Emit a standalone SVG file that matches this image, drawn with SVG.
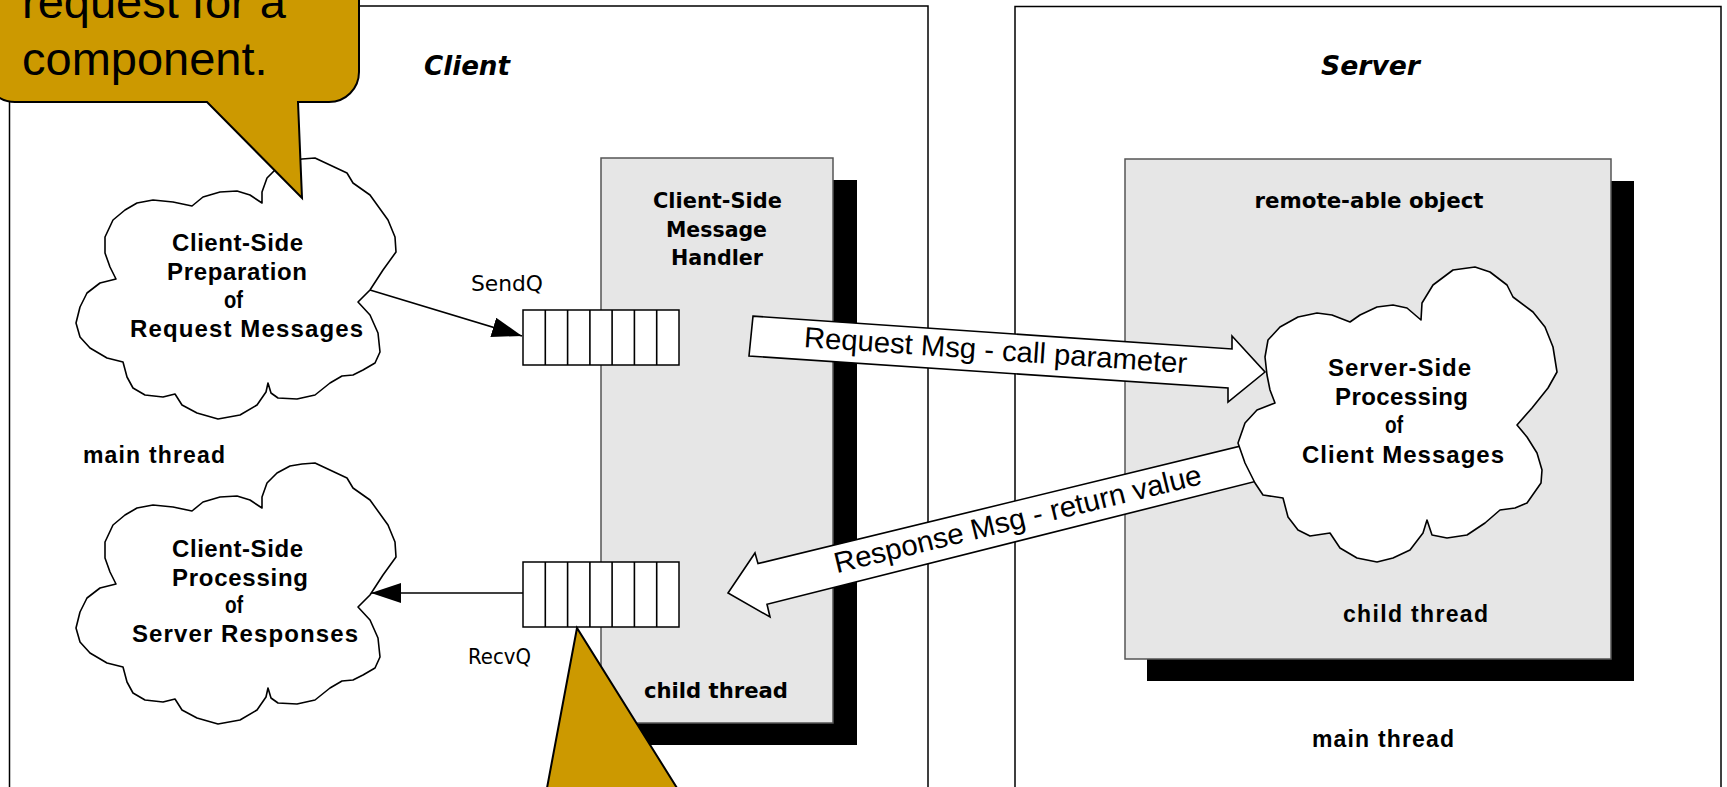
<svg xmlns="http://www.w3.org/2000/svg" width="1727" height="787" viewBox="0 0 1727 787">
<defs>
<style>
.box{fill:#fff;stroke:#000;stroke-width:1.5}
.shadow{fill:#000}
.panel{fill:#e6e6e6;stroke:#555;stroke-width:1.5}
.cloud{fill:#fff;stroke:#000;stroke-width:1.6;stroke-linejoin:round}
.cell{fill:#fff;stroke:#000;stroke-width:1.5}
.big{fill:#fff;stroke:#000;stroke-width:1.6;stroke-linejoin:miter}
.thin{stroke:#000;stroke-width:1.6;fill:none}
.callout{fill:#cc9900;stroke:#000;stroke-width:2}
.title{font-family:"DejaVu Sans",Verdana,sans-serif;font-weight:bold;font-style:italic;font-size:26px}
.lbl{font-family:"DejaVu Sans",Verdana,sans-serif;font-weight:bold;font-size:21px}
.cl{font-family:"Liberation Sans",Arial,sans-serif;font-weight:bold;font-size:24px}
.th{font-family:"Liberation Sans",Arial,sans-serif;font-weight:bold;font-size:23px}
.q{font-family:"DejaVu Sans",Verdana,sans-serif;font-size:21px}
.msg{font-family:"Liberation Sans",Arial,sans-serif;font-size:29px;text-anchor:middle}
.co{font-family:"Liberation Sans",Arial,sans-serif;font-size:47px}
</style>
<marker id="ah" viewBox="0 0 30 20" refX="30" refY="10" markerWidth="30" markerHeight="20" markerUnits="userSpaceOnUse" orient="auto">
<path d="M0,0 L30,10 L0,20 z" fill="#000"/>
</marker>
<polygon id="cloudA" points="315,158 347,173 353,183 370,195 388,220 395,237 396,252 383,270 370,290 358,302 370,315 378,333 380,352 375,363 363,370 353,375 342,376 330,383 315,395 297,399 278,398 271,393 268,383 266,392 257,405 240,415 218,419 197,413 182,405 175,394 163,397 145,395 133,388 127,377 123,362 107,358 90,348 80,337 76,323 80,307 87,293 100,283 116,279 110,267 105,253 105,237 113,220 125,210 137,203 153,200 173,202 192,206 203,197 220,192 237,191 250,195 262,203 262,192 267,178 277,168 290,161 302,159"/>
</defs>

<g id="client">
<rect class="box" x="9.5" y="6" width="918.5" height="800"/>
<text class="title" x="424" y="75" textLength="86" lengthAdjust="spacingAndGlyphs">Client</text>
<text class="th" x="83" y="463" textLength="142" lengthAdjust="spacing">main thread</text>
</g>

<g id="server">
<rect class="box" x="1015" y="6.5" width="706" height="800"/>
<text class="title" x="1321" y="75" textLength="99" lengthAdjust="spacingAndGlyphs">Server</text>
<text class="th" x="1312" y="747" textLength="142" lengthAdjust="spacing">main thread</text>
</g>

<g id="handler">
<rect class="shadow" x="623" y="180" width="234" height="565"/>
<rect class="panel" x="601" y="158" width="232" height="565"/>
<text class="lbl" x="653" y="208" textLength="129" lengthAdjust="spacingAndGlyphs">Client-Side</text>
<text class="lbl" x="666" y="237" textLength="101" lengthAdjust="spacingAndGlyphs">Message</text>
<text class="lbl" x="671" y="265" textLength="92" lengthAdjust="spacingAndGlyphs">Handler</text>
<text class="lbl" x="644" y="698" textLength="144" lengthAdjust="spacingAndGlyphs">child thread</text>
</g>

<g id="remote">
<rect class="shadow" x="1147" y="181" width="487" height="500"/>
<rect class="panel" x="1125" y="159" width="486" height="500"/>
<text class="lbl" x="1254.5" y="208" textLength="229" lengthAdjust="spacingAndGlyphs">remote-able object</text>
<text class="th" x="1343" y="622" textLength="145" lengthAdjust="spacing">child thread</text>
</g>

<g id="sendq">
<rect class="cell" x="523" y="310" width="156" height="55"/>
<path class="thin" d="M545.3,310V365M567.6,310V365M589.9,310V365M612.1,310V365M634.4,310V365M656.7,310V365"/>
<text class="q" x="471" y="291" textLength="72" lengthAdjust="spacingAndGlyphs">SendQ</text>
</g>

<g id="recvq">
<rect class="cell" x="523" y="562" width="156" height="65"/>
<path class="thin" d="M545.3,562V627M567.6,562V627M589.9,562V627M612.1,562V627M634.4,562V627M656.7,562V627"/>
<text class="q" x="468" y="664" textLength="63" lengthAdjust="spacingAndGlyphs">RecvQ</text>
</g>

<g id="cloud-prep">
<use href="#cloudA" class="cloud"/>
<text class="cl" x="172" y="251" textLength="131" lengthAdjust="spacing">Client-Side</text>
<text class="cl" x="167" y="280" textLength="140" lengthAdjust="spacing">Preparation</text>
<text class="cl" x="224" y="308" textLength="19" lengthAdjust="spacingAndGlyphs">of</text>
<text class="cl" x="130" y="337" textLength="233" lengthAdjust="spacing">Request Messages</text>
</g>

<g id="cloud-resp">
<use href="#cloudA" class="cloud" transform="translate(0,305)"/>
<text class="cl" x="172" y="557" textLength="131" lengthAdjust="spacing">Client-Side</text>
<text class="cl" x="172" y="586" textLength="136" lengthAdjust="spacing">Processing</text>
<text class="cl" x="225" y="613" textLength="18" lengthAdjust="spacingAndGlyphs">of</text>
<text class="cl" x="132" y="642" textLength="226" lengthAdjust="spacing">Server Responses</text>
</g>

<g id="connectors">
<line class="thin" x1="370" y1="290" x2="522" y2="336" marker-end="url(#ah)"/>
<line class="thin" x1="523" y1="593" x2="371" y2="593" marker-end="url(#ah)"/>
<g id="request-msg">
<polygon class="big" points="753,316.1 1232,349 1232,336 1265,372 1228,402 1228,388 749,356"/>
<text class="msg" x="995" y="360" textLength="384" lengthAdjust="spacingAndGlyphs" transform="rotate(3.9 995 360)">Request Msg - call parameter</text>
</g>
<g id="response-msg">
<polygon class="big" points="1275,437.7 758,563.6 755,553 728,593 770,617 767,604.3 1275,476.5"/>
<text class="msg" x="1020" y="528.5" textLength="377" lengthAdjust="spacingAndGlyphs" transform="rotate(-13.7 1020 528.5)">Response Msg - return value</text>
</g>
</g>

<g id="cloud-server">
<polygon class="cloud" points="1421,320 1422,303 1433,285 1453,270 1475,267 1490,272 1507,285 1513,297 1533,312 1545,327 1553,347 1557,372 1548,388 1532,408 1517,425 1527,437 1537,453 1542,470 1541,483 1527,503 1515,508 1500,510 1485,523 1467,535 1447,538 1432,535 1427,520 1423,533 1410,550 1393,558 1377,562 1357,558 1340,548 1330,533 1310,536 1298,530 1288,517 1283,498 1263,495 1255,483 1245,463 1238,443 1245,423 1257,410 1275,403 1270,390 1267,375 1265,357 1268,340 1280,327 1298,317 1317,313 1332,315 1350,322 1360,315 1377,307 1393,305 1407,308"/>
<text class="cl" x="1328" y="376" textLength="143" lengthAdjust="spacing">Server-Side</text>
<text class="cl" x="1335" y="405" textLength="133" lengthAdjust="spacing">Processing</text>
<text class="cl" x="1385" y="433" textLength="18" lengthAdjust="spacingAndGlyphs">of</text>
<text class="cl" x="1302" y="463" textLength="202" lengthAdjust="spacing">Client Messages</text>
</g>

<g id="callout-top">
<path class="callout" d="M-15,-120 H359 V72 A30,30 0 0 1 329,102 H298 L302,198 L207,102 H15 A30,30 0 0 1 -15,72 Z"/>
<text class="co" x="22" y="18">request for a</text>
<text class="co" x="22" y="75">component.</text>
</g>

<g id="callout-bottom">
<polygon class="callout" points="577,628 541,820 697,820"/>
</g>
</svg>
